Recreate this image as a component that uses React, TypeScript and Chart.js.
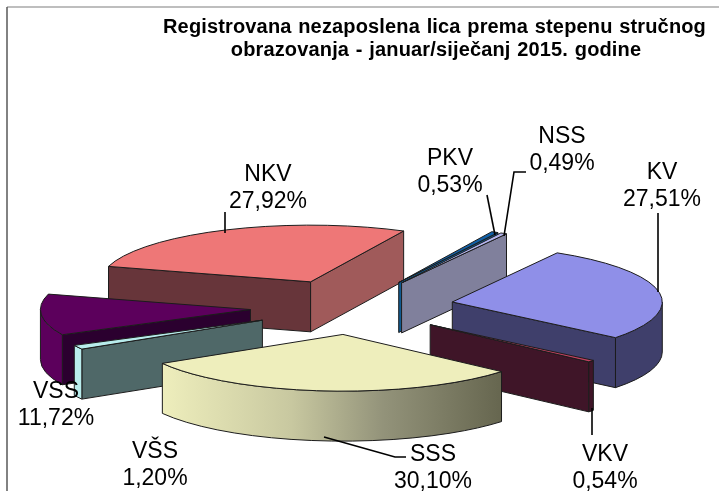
import React, { useEffect, useRef } from "react";
import { Chart, registerables } from "chart.js";

Chart.register(...registerables);

const categories = ["NKV", "PKV", "NSS", "KV", "VKV", "SSS", "VŠS", "VSS"];
const shares = [27.92, 0.53, 0.49, 27.51, 0.54, 30.1, 1.2, 11.72];
const shareLabels = ["27,92%", "0,53%", "0,49%", "27,51%", "0,54%", "30,10%", "1,20%", "11,72%"];
const topColors = ["#ee7777", "#1060a8", "#b4b4ee", "#8f8fe8", "#c04060", "#eeeebc", "#b8ecec", "#5c005c"];
const startWallColors = ["#67353a", "#0b4a7c", "#70708c", "#3f3f6b", "#3f1528", "#66664f", "#4f6868", "#2b002f"];
const endWallColors = ["#a05a5a", "#0f5a90", "#80809c", "#3f3f6b", "#3f1528", "#66664f", "#4f6868", "#2b002f"];
const rimColors = ["#a05a5a", "#0f5a90", "#80809c", "#3f3f6b", "#3f1528", "", "#b8ecec", "#5c005c"];
const paintOrder = [0, 1, 2, 3, 7, 4, 6, 5];
const titleLines = [
  { text: "Registrovana nezaposlena lica prema stepenu stručnog", x: 434.5, y: 33 },
  { text: "obrazovanja - januar/siječanj 2015. godine", x: 436, y: 56 },
];
const labelPlaces = [
  [268, 175], [450, 159], [562, 137], [662, 173], [605, 455], [433, 455], [155, 452], [56, 392],
];
const leaders = [
  [[225, 212], [225, 233]],
  [[487, 195], [495, 235]],
  [[526, 172], [514, 172], [504, 236]],
  [[658, 213], [658, 292]],
  [[592, 408], [592, 435]],
  [[324, 437], [395, 457], [406, 457]],
];

const SQUASH = 0.27;
const DEPTH = 50;
const EXPLODE = 102;

const pie3d = {
  id: "pie3d",
  beforeDatasetDraw(chart: any) {
    const { ctx } = chart;
    const arcs = chart.getDatasetMeta(0).data;
    paintOrder.forEach((i) => {
      const arc = arcs[i];
      const { x, y, startAngle: a0, endAngle: a1, outerRadius: r } = arc.getProps(
        ["x", "y", "startAngle", "endAngle", "outerRadius"], true);
      const mid = (a0 + a1) / 2;
      const ax = x + Math.cos(mid) * EXPLODE;
      const ay = y + Math.sin(mid) * EXPLODE * SQUASH;
      const pt = (a: number) => [ax + Math.cos(a) * r, ay + Math.sin(a) * r * SQUASH];
      const p0 = pt(a0);
      const p1 = pt(a1);
      ctx.save();
      ctx.lineWidth = 1;
      ctx.strokeStyle = "#1c1c1c";
      ctx.lineJoin = "round";
      const quad = (p: number[], color: string) => {
        ctx.beginPath();
        ctx.moveTo(ax, ay);
        ctx.lineTo(p[0], p[1]);
        ctx.lineTo(p[0], p[1] + DEPTH);
        ctx.lineTo(ax, ay + DEPTH);
        ctx.closePath();
        ctx.fillStyle = color;
        ctx.fill();
        ctx.stroke();
      };
      // radial walls that face the viewer
      if (Math.cos(a0) < 0) quad(p0, startWallColors[i]);
      if (Math.cos(a1) > 0) quad(p1, endWallColors[i]);
      // outer rim, where it faces the viewer
      const s = Math.max(a0, 0);
      const e = Math.min(a1, Math.PI);
      if (e > s) {
        const ps = pt(s);
        const pe = pt(e);
        ctx.beginPath();
        ctx.ellipse(ax, ay, r, r * SQUASH, 0, s, e);
        ctx.lineTo(pe[0], pe[1] + DEPTH);
        ctx.ellipse(ax, ay + DEPTH, r, r * SQUASH, 0, e, s, true);
        ctx.closePath();
        if (rimColors[i]) {
          ctx.fillStyle = rimColors[i];
        } else {
          const g = ctx.createLinearGradient(ps[0], 0, pe[0], 0);
          g.addColorStop(0, "#66664f");
          g.addColorStop(0.35, "#93937a");
          g.addColorStop(0.62, "#c8c8a0");
          g.addColorStop(1, "#eeeebc");
          ctx.fillStyle = g;
        }
        ctx.fill();
        ctx.stroke();
      }
      // top face: the library's own arc, squashed and moved out
      ctx.save();
      ctx.translate(ax, ay);
      ctx.scale(1, SQUASH);
      ctx.translate(-x, -y);
      arc.draw(ctx);
      ctx.restore();
      ctx.beginPath();
      ctx.moveTo(ax, ay);
      ctx.ellipse(ax, ay, r, r * SQUASH, 0, a0, a1);
      ctx.closePath();
      ctx.stroke();
      ctx.restore();
    });
    return false;
  },
  afterDraw(chart: any) {
    const { ctx } = chart;
    ctx.save();
    // frame
    ctx.lineWidth = 1.5;
    ctx.strokeStyle = "#a8a8a8";
    ctx.beginPath();
    ctx.moveTo(7, 7);
    ctx.lineTo(719, 7);
    ctx.stroke();
    ctx.strokeStyle = "#585858";
    ctx.beginPath();
    ctx.moveTo(7, 491);
    ctx.lineTo(7, 7);
    ctx.stroke();
    // leader lines
    ctx.strokeStyle = "#000";
    ctx.lineWidth = 1.6;
    leaders.forEach((line) => {
      ctx.beginPath();
      line.forEach(([px, py], k) => (k ? ctx.lineTo(px, py) : ctx.moveTo(px, py)));
      ctx.stroke();
    });
    ctx.fillStyle = "#000";
    ctx.textAlign = "center";
    ctx.textBaseline = "middle";
    ctx.font = "23px 'Liberation Sans'";
    categories.forEach((c, i) => {
      const [px, py] = labelPlaces[i];
      ctx.fillText(c, px, py);
      ctx.fillText(shareLabels[i], px, py + 27);
    });
    ctx.font = "bold 20px 'Liberation Sans'";
    ctx.textBaseline = "alphabetic";
    ctx.letterSpacing = "0.15px";
    ctx.wordSpacing = "1px";
    titleLines.forEach((l) => ctx.fillText(l.text, l.x, l.y));
    ctx.restore();
  },
};

export default function App() {
  const ref = useRef<HTMLCanvasElement>(null);
  useEffect(() => {
    document.body.style.margin = "0";
    const chart = new Chart(ref.current!, {
      type: "pie",
      data: {
        labels: categories,
        datasets: [{ data: shares, backgroundColor: topColors, borderWidth: 0, offset: 0, clip: false } as any],
      },
      options: {
        responsive: false,
        animation: false,
        rotation: -74.2,
        radius: 210,
        layout: { padding: { top: 123, right: 15, left: 0, bottom: 0 } },
        plugins: { legend: { display: false }, title: { display: false }, tooltip: { enabled: false } },
      } as any,
      plugins: [pie3d],
    });
    return () => chart.destroy();
  }, []);
  return <canvas ref={ref} width={719} height={491} style={{ display: "block" }} />;
}
